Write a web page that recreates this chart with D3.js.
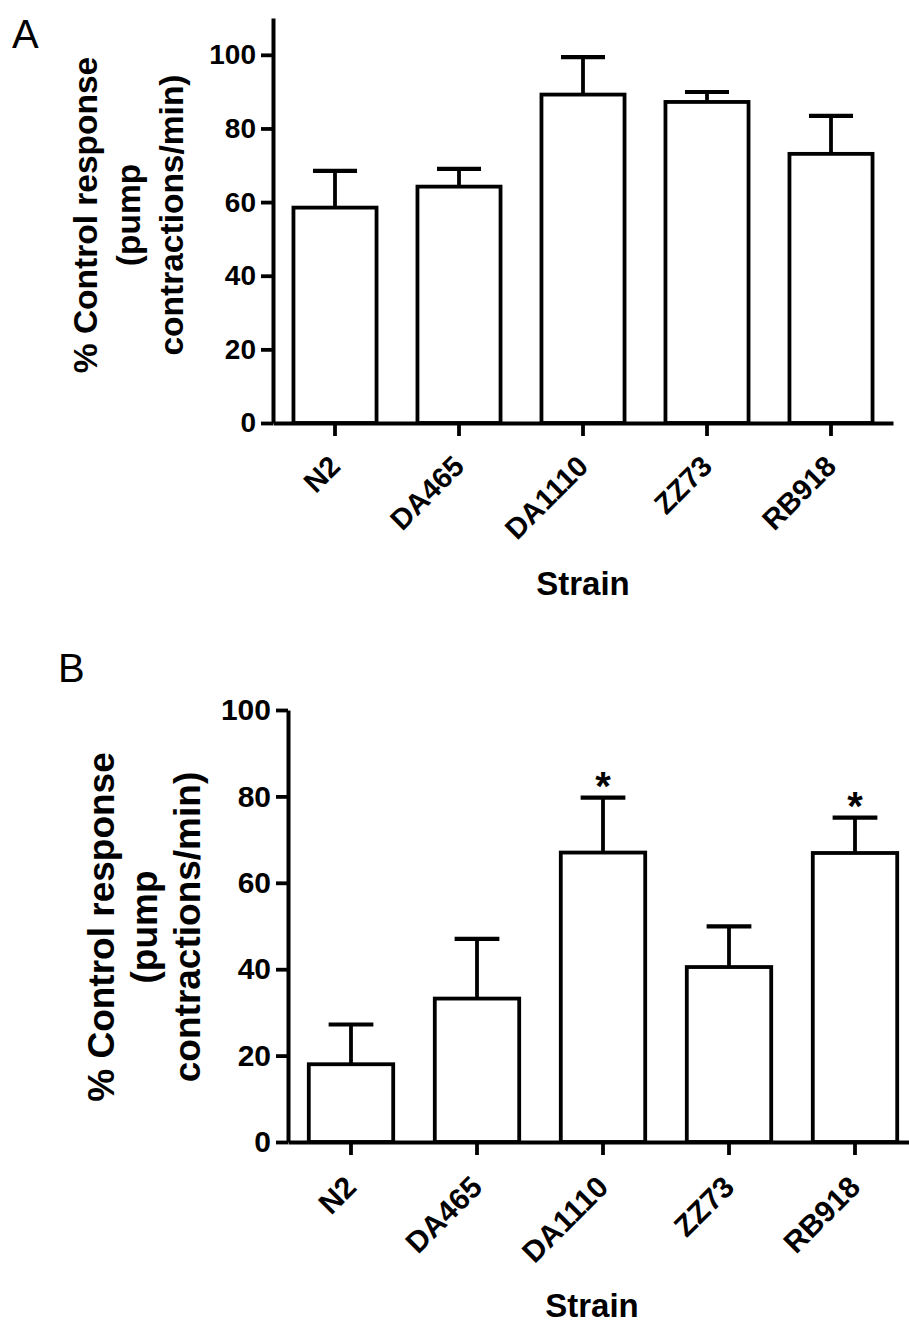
<!DOCTYPE html>
<html>
<head>
<meta charset="utf-8">
<script src="https://cdn.jsdelivr.net/npm/d3@7"></script>
<style>
  body { margin: 0; background: #fff; }
  svg { display: block; font-family: "Liberation Sans", Arial, sans-serif; }
  .axis path, .axis line { stroke: #000; }
  .axis text { fill: #000; font-weight: bold; }
</style>
</head>
<body>
<div id="chart"></div>
<script>
// Data
var strains = ["N2", "DA465", "DA1110", "ZZ73", "RB918"];
var meanA = [58.5, 64.2, 89.2, 87.2, 73.1];
var semA = [10.0, 4.8, 10.2, 2.7, 10.3];
var meanB = [18.0, 33.2, 67.0, 40.5, 66.9];
var semB = [9.2, 13.8, 12.7, 9.4, 8.2];
var starsB = ["", "", "*", "", "*"];
var yTicks = [0, 20, 40, 60, 80, 100];
var yTitle = ["% Control response", "(pump", "contractions/min)"];

var svg = d3.select("#chart")
  .append("svg")
  .attr("width", 909)
  .attr("height", 1331);

// Panel settings (positions only)
var panels = [
  {
    letter: "A", letterX: 12, letterY: 48,
    mean: meanA, sem: semA, stars: null,
    yMax: 110, top: 18, bottom: 423, left: 273, right: 893,
    tickFont: 28, labelFont: 29, labelDy: 45,
    titleFont: 33.5, titleX: [97, 140, 183], titleY: 215,
    xTitleY: 595, xTitleX: 583
  },
  {
    letter: "B", letterX: 58, letterY: 682,
    mean: meanB, sem: semB, stars: starsB,
    yMax: 100, top: 710, bottom: 1142, left: 288, right: 918,
    tickFont: 30, labelFont: 30, labelDy: 47,
    titleFont: 37, titleX: [114, 157, 200], titleY: 927,
    xTitleY: 1317, xTitleX: 592
  }
];

panels.forEach(drawPanel);

function drawPanel(p) {
  var g = svg.append("g");

  var data = strains.map(function(s, i) {
    return { name: s, mean: p.mean[i], sem: p.sem[i], star: p.stars ? p.stars[i] : "" };
  });

  // Scales
  var xScale = d3.scaleBand()
    .domain(strains)
    .range([p.left, p.right])
    .paddingInner(0.33)
    .paddingOuter(0.165);

  var yScale = d3.scaleLinear()
    .domain([0, p.yMax])
    .range([p.bottom, p.top]);

  // Bars
  g.selectAll(".bar")
    .data(data)
    .enter()
    .append("rect")
    .attr("class", "bar")
    .attr("x", d => xScale(d.name))
    .attr("y", d => yScale(d.mean))
    .attr("width", xScale.bandwidth())
    .attr("height", d => yScale(0) - yScale(d.mean))
    .attr("fill", "#fff")
    .attr("stroke", "#000")
    .attr("stroke-width", 3.8);

  // Error bars (upper only)
  var capW = xScale.bandwidth() * 0.53;
  g.selectAll(".err")
    .data(data)
    .enter()
    .append("line")
    .attr("x1", d => xScale(d.name) + xScale.bandwidth() / 2)
    .attr("x2", d => xScale(d.name) + xScale.bandwidth() / 2)
    .attr("y1", d => yScale(d.mean))
    .attr("y2", d => yScale(d.mean + d.sem))
    .attr("stroke", "#000")
    .attr("stroke-width", 3.8);

  g.selectAll(".cap")
    .data(data)
    .enter()
    .append("line")
    .attr("x1", d => xScale(d.name) + xScale.bandwidth() / 2 - capW / 2)
    .attr("x2", d => xScale(d.name) + xScale.bandwidth() / 2 + capW / 2)
    .attr("y1", d => yScale(d.mean + d.sem))
    .attr("y2", d => yScale(d.mean + d.sem))
    .attr("stroke", "#000")
    .attr("stroke-width", 4.2);

  // Significance stars
  g.selectAll(".star")
    .data(data.filter(d => d.star))
    .enter()
    .append("text")
    .attr("x", d => xScale(d.name) + xScale.bandwidth() / 2)
    .attr("y", d => yScale(d.mean + d.sem) + 2)
    .attr("text-anchor", "middle")
    .attr("font-size", "40px")
    .attr("font-weight", "bold")
    .text(d => d.star);

  // Y axis
  var yAxis = d3.axisLeft(yScale)
    .tickValues(yTicks)
    .tickSize(12)
    .tickSizeOuter(0)
    .tickPadding(5);

  var yG = g.append("g")
    .attr("class", "axis")
    .attr("transform", `translate(${p.left}, 0)`)
    .call(yAxis);
  yG.select(".domain").attr("stroke-width", 4);
  yG.selectAll(".tick line").attr("stroke-width", 3.8);
  yG.selectAll("text").attr("font-size", p.tickFont + "px");

  // X axis
  var xAxis = d3.axisBottom(xScale)
    .tickSize(13)
    .tickSizeOuter(0);

  var xG = g.append("g")
    .attr("class", "axis")
    .attr("transform", `translate(0, ${p.bottom})`)
    .call(xAxis);
  xG.select(".domain").attr("stroke-width", 4);
  xG.selectAll(".tick line").attr("stroke-width", 3.8);
  xG.selectAll("text")
    .attr("x", null)
    .attr("y", null)
    .attr("dy", null)
    .attr("font-size", p.labelFont + "px")
    .attr("text-anchor", "end")
    .attr("transform", `translate(7, ${p.labelDy}) rotate(-45)`);

  // Y title (three lines)
  yTitle.forEach(function(line, i) {
    g.append("text")
      .attr("transform", `translate(${p.titleX[i]}, ${p.titleY}) rotate(-90)`)
      .attr("text-anchor", "middle")
      .attr("font-size", p.titleFont + "px")
      .attr("font-weight", "bold")
      .text(line);
  });

  // X title
  g.append("text")
    .attr("x", p.xTitleX)
    .attr("y", p.xTitleY)
    .attr("text-anchor", "middle")
    .attr("font-size", "33px")
    .attr("font-weight", "bold")
    .text("Strain");

  // Panel letter
  g.append("text")
    .attr("x", p.letterX)
    .attr("y", p.letterY)
    .attr("font-size", "40px")
    .text(p.letter);
}
</script>
</body>
</html>
